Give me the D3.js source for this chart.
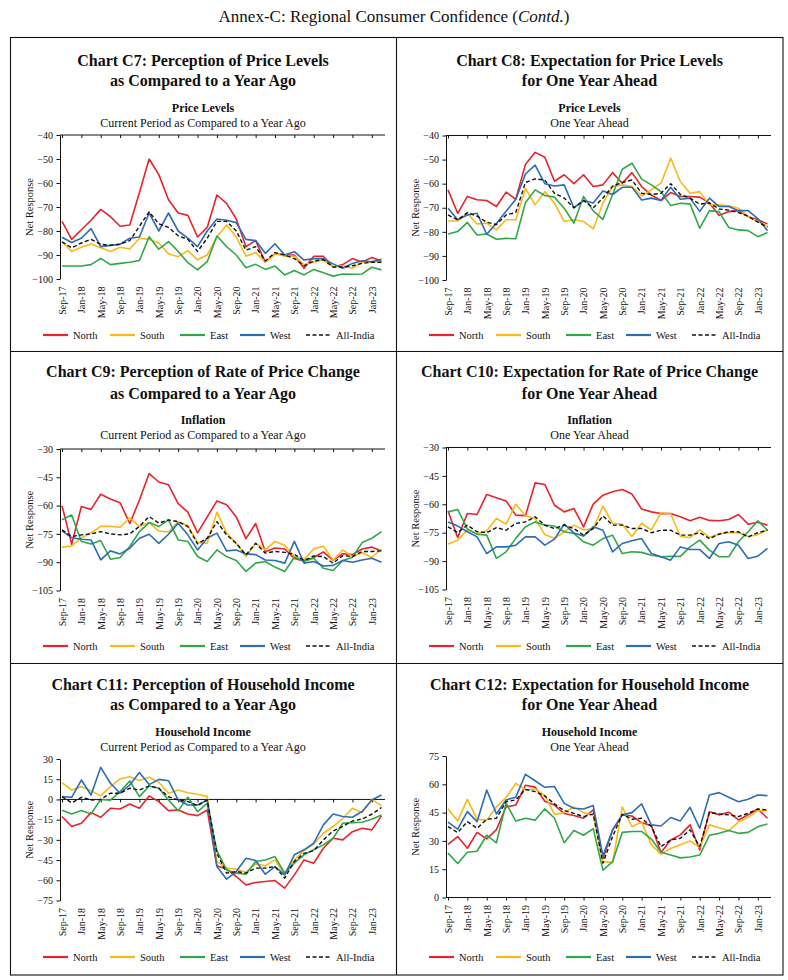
<!DOCTYPE html>
<html><head><meta charset="utf-8">
<script src="https://cdn.jsdelivr.net/npm/d3@7/dist/d3.min.js"></script>
<style>body{margin:0;background:#fff} svg{display:block}</style>
</head><body><svg id="c" width="788" height="980"></svg>
<script>
// ---------- DATA ----------
const months = ["Sep-17","Nov-17","Jan-18","Mar-18","May-18","Jul-18","Sep-18","Nov-18","Jan-19","Mar-19","May-19","Jul-19","Sep-19","Nov-19","Jan-20","Mar-20","May-20","Jul-20","Sep-20","Nov-20","Jan-21","Mar-21","May-21","Jul-21","Sep-21","Nov-21","Jan-22","Mar-22","May-22","Jul-22","Sep-22","Nov-22","Jan-23","Mar-23"];
const tickLabels = ["Sep-17","Jan-18","May-18","Sep-18","Jan-19","May-19","Sep-19","Jan-20","May-20","Sep-20","Jan-21","May-21","Sep-21","Jan-22","May-22","Sep-22","Jan-23"];
const seriesNames = ["North","South","East","West","All-India"];

const yTicksPriceLevel = [-100,-90,-80,-70,-60,-50,-40];
const yTicksInflation = [-105,-90,-75,-60,-45,-30];
const yTicksIncomeNow = [-75,-60,-45,-30,-15,0,15,30];
const yTicksIncomeAhead = [0,15,30,45,60,75];

// Chart C7
const c7North = [-76,-83.5,-79.5,-75.5,-71,-74,-78,-77.5,-64,-50,-56.5,-67,-72.5,-73.5,-82.5,-78.5,-65,-68.5,-75,-86.5,-84,-93,-89.5,-90,-90,-95.5,-90.5,-90.5,-95,-94,-91.5,-93,-91,-92.5];
const c7South = [-84.5,-88.5,-86.8,-85.4,-87,-88.5,-86.8,-87.5,-83,-83.5,-85,-89.5,-90.7,-88.2,-92,-90,-82.4,-77.5,-82.5,-90.5,-89,-93,-89.5,-90.5,-90.5,-94,-93,-92,-95,-94.5,-95.5,-93,-93,-92.5];
const c7East = [-94.6,-94.6,-94.6,-94,-91.4,-94,-93.5,-93,-92.3,-82.4,-87.6,-84.4,-88.5,-93.2,-96.2,-92.8,-82.1,-86.5,-90,-95.3,-93.9,-96,-94.6,-98.3,-96.5,-98.3,-96,-97.4,-98.8,-97.9,-98,-97.9,-95.1,-96.2];
const c7West = [-82.6,-84.8,-83,-79,-86.5,-86,-85.5,-83,-82.5,-72.5,-80,-72.5,-80,-83,-86.5,-80,-75,-75.5,-76.5,-83.5,-84,-89.3,-85.3,-90,-88.6,-92.1,-91.5,-91.5,-93.7,-95.5,-93.5,-92.4,-92.8,-91.8];
const c7AllIndia = [-84.5,-87,-85,-83.5,-85.5,-86,-85.5,-84,-78,-72,-77,-78.5,-82,-83.5,-88.5,-83,-76,-76,-80,-88,-86.5,-92.5,-89,-90,-91.5,-94.5,-92.5,-92,-95,-95,-94.5,-93.5,-93,-93];

// Chart C8
const c8North = [-62.6,-72.3,-65.3,-66.7,-67,-69.5,-63.5,-66.5,-52,-47,-49,-59,-56.3,-60,-56.3,-61.2,-60.5,-55.4,-59.8,-55.4,-61.2,-64.7,-67,-63.7,-65.3,-65.3,-65.6,-68,-73.2,-71.6,-71.2,-73.7,-75,-76.7];
const c8South = [-75.5,-75.5,-72.3,-76.7,-76.4,-79.2,-75,-75,-62,-68.8,-63.3,-68.1,-75.7,-75,-75.7,-78.8,-68.1,-61.2,-60.5,-61.2,-65.1,-62.6,-59.8,-49.4,-59.1,-64,-63.3,-68.8,-68.8,-69.2,-70.2,-73.7,-75.7,-77.5];
const c8East = [-80.9,-79.9,-76.1,-81.3,-80.9,-83.1,-82.7,-82.9,-67.8,-62.6,-64.9,-65.6,-70.2,-76.4,-65.3,-71.3,-74.8,-64.5,-54,-51.5,-58.1,-60.5,-63.3,-69.1,-68.1,-68.4,-78.5,-71.2,-71.6,-78.2,-79.2,-79.5,-82,-80.3];
const c8West = [-70.2,-75,-73,-72.3,-81,-76.5,-71.5,-66.5,-56,-52.3,-60,-61,-60.5,-70,-67,-68,-63,-64.5,-61.5,-61.5,-66.8,-66,-67,-61.5,-66.5,-66,-71.5,-66,-69.5,-69.5,-71.2,-71.2,-74.5,-79.5];
const c8AllIndia = [-73,-75,-72,-73.5,-76,-77,-73,-72,-59.5,-58,-58.5,-64,-66,-70,-67,-70,-66,-61,-59.5,-58.5,-64,-64.5,-64,-60,-64.5,-66,-68.5,-68,-70.5,-71,-72,-73.5,-76,-78];

// Chart C9
const c9North = [-60,-80.5,-60.5,-62,-54,-56.5,-58.5,-69.5,-57,-43,-47.5,-49,-59,-63.5,-74.5,-66,-57.5,-59.5,-66,-77.5,-69.5,-84.5,-82.5,-83,-88,-89.5,-87.5,-84.5,-89,-85.5,-86,-83,-82,-84];
const c9South = [-82,-81.5,-77,-74.5,-71,-71,-71.5,-66.5,-71,-69,-73.5,-74,-68.5,-70.5,-79.5,-80,-63.5,-74.5,-80,-87,-80,-83.5,-79,-81,-87,-88.5,-83,-81.5,-89,-83.5,-87,-85,-87.5,-83];
const c9East = [-67.5,-65,-79,-80.3,-78.5,-88.4,-87.5,-81.7,-73.8,-69,-71.1,-67.6,-78.2,-79,-87,-89.6,-83.5,-87,-89.1,-94.9,-90.5,-89.6,-92.6,-94.9,-87.4,-89.3,-87.9,-93.2,-94.4,-89.1,-87.4,-79.6,-77.3,-73.8];
const c9West = [-73.4,-77,-77.8,-78.2,-88.8,-84,-85.6,-82.6,-77.3,-75.2,-80,-75.2,-69.3,-75.5,-83.5,-77.3,-74.6,-84,-83.5,-85.6,-86,-88.8,-89.1,-90.5,-79,-90.5,-89.6,-92,-91.7,-89.1,-90,-88.8,-87.9,-90];
const c9AllIndia = [-72.9,-76.4,-75.5,-75,-73.8,-75,-75.5,-75,-71,-65.8,-69.3,-67.6,-68.5,-71.1,-80.3,-77.3,-68.5,-75.5,-80,-86.1,-80,-85.2,-84.3,-84.8,-85.8,-89.1,-86.7,-87,-90.5,-86.5,-87,-84.3,-84.3,-84];

// Chart C10
const c10North = [-63.5,-77.5,-64.9,-65.4,-54.8,-56.5,-58.2,-65.7,-66,-48.7,-49.5,-60.5,-64,-62.2,-71.9,-59.9,-55.2,-53.4,-52.2,-54.6,-62.5,-64,-64.9,-64.9,-66.6,-68.7,-66.8,-68.5,-68.7,-68,-65.4,-70.5,-69.5,-71];
const c10South = [-81,-79,-73.5,-75.5,-74,-67.5,-70.5,-60,-66,-67.5,-76,-78,-74.5,-71,-73.5,-73,-61,-70,-70.5,-77,-70,-73.5,-64.5,-65,-77,-77.5,-73.5,-77.5,-75.5,-75,-75,-77,-76,-73.5];
const c10East = [-64,-62.7,-73,-75.8,-76.3,-88.6,-85.1,-78,-71.9,-69.3,-71,-71.5,-74.5,-75.4,-79.8,-81.6,-78.1,-76.3,-86,-85.1,-85.4,-86.9,-87.7,-87.5,-87.5,-82.5,-78.9,-84.2,-87.7,-87.7,-79.8,-74.5,-68.7,-73.7];
const c10West = [-69.3,-71.5,-74.5,-77.2,-86,-82.5,-82.5,-81.6,-77.2,-77.2,-81.6,-78.4,-70.5,-75.1,-76.8,-71.9,-73.7,-85.1,-80.7,-79.3,-78.1,-86,-87.7,-89.5,-82.5,-83.9,-83.9,-88.6,-80.7,-79.8,-81.6,-88.6,-87.4,-83.3];
const c10AllIndia = [-71.9,-74.9,-71,-74.5,-75,-72.3,-73.7,-70.1,-69.3,-66.6,-71,-72.8,-71,-72.8,-76.3,-72.8,-66.1,-71,-71,-72.8,-72.8,-75,-73.7,-73.7,-76.3,-76.3,-75,-78.1,-75.8,-74.5,-74.5,-77.2,-75,-73.7];

// Chart C11
const c11North = [-12.7,-20.1,-17.7,-9.8,-13.2,-6.6,-7.1,-3.4,-6.6,2.6,-1.6,-8.3,-7.8,-10.8,-12,-7.8,-49.3,-51.8,-57.2,-63.4,-61.7,-60.9,-60.2,-65.8,-56,-44.9,-47.3,-36.2,-28.8,-30,-23.9,-21.4,-22.6,-12.2];
const c11South = [12.5,7,9.5,6.5,2.6,9.5,15.2,16.9,14,16.4,12.7,4.6,7,5,3.8,2.1,-46,-51,-51.8,-54,-47.8,-49.3,-44.9,-56,-44.9,-37.9,-33,-25.1,-20.1,-14,-6.6,-9.8,0.1,-4.8];
const c11East = [-8,-10.8,-8.3,-10.8,0,-0.5,5.8,13.7,2.1,10,8.3,-0.4,-8.3,1.6,-9,-2.9,-38,-52.3,-54.7,-55.5,-46.1,-44.9,-42.4,-54.7,-47.3,-41.1,-37.4,-33.7,-28.8,-17.7,-17.2,-16.9,-14.7,-11.5];
const c11West = [2.1,1.6,14.4,3.3,23.8,12,4.6,10.7,19.9,11,14.9,13.9,-0.4,-4.1,-4.1,-0.4,-49.8,-59.2,-53.5,-43.6,-45.3,-55.5,-49.8,-56,-41.1,-37.4,-32.5,-18.9,-10.8,-12.7,-13.2,-9,-0.4,3.3];
const c11AllIndia = [2,-2.5,1.6,-0.4,0,4.6,4.6,8.3,7,10,8.3,2,-0.4,-1.6,-4.6,-0.4,-40,-54.7,-53.5,-54.7,-51,-51,-49.8,-58.4,-46,-40,-38,-30,-23.5,-20,-16,-14.5,-11,-6];

// Chart C12
const c12North = [28.2,32.3,26.1,34.5,31,36,48,49,59.5,58.5,51,49,44.5,43.5,42,46.5,20.5,35.8,43.8,43.2,39.7,38.1,23.8,30.5,33.2,38.5,25.2,45.5,43.8,45.2,41.1,43.8,46.9,42];
const c12South = [47,40.5,52,41.5,41,48,53,60.5,57,57.5,54,44,45,48,45,43.5,19,18.5,48,37.5,40,28,23,26,28,30,26.5,38.5,37,35.5,40,42.5,46,46];
const c12East = [23.5,18,24,24.5,33,29,50,40.5,42,41,47,42,29,35.5,33,36.5,14.5,19,34.5,35,35,31,24,22.5,21,21.5,22.5,33,34,35.5,34,34.5,37.5,39];
const c12West = [39.9,36.2,45.5,40.2,57,44.3,51.7,53.1,65.3,61.9,58.4,58.8,49.9,47.3,46.9,48.7,22.1,35.8,43.8,45,49.6,38.5,37.9,42.4,40.6,47.8,36.7,54.3,55.6,53.1,50.8,52.1,54.3,54];
const c12AllIndia = [37.6,34.4,40.2,36.7,41.5,42,50.8,51.7,57.3,56.1,53.8,49.6,46.1,44.6,42.9,44.3,18.2,32.3,44.1,41.5,42,37.6,27,30.5,31.4,35.8,27,45,44.3,43.8,42.9,44.6,46.9,46.4];

// ---------- STYLE / LAYOUT ----------
const FONT = "'Liberation Serif','Times New Roman',serif";
const colors = {"North":"#e8232b","South":"#fbb81a","East":"#30a84a","West":"#2c6db4","All-India":"#111"};

const panels = [
  {left:10, right:396, top:37, t1:"Chart C7: Perception of Price Levels", t2:"as Compared to a Year Ago",
   s1:"Price Levels", s2:"Current Period as Compared to a Year Ago",
   dom:[-100,-40], ticks:yTicksPriceLevel, axisVal:-40, pt:135, pb:279, ty:[66,86,112,127], ly:335,
   data:[c7North,c7South,c7East,c7West,c7AllIndia]},
  {left:396, right:783, top:37, t1:"Chart C8: Expectation for Price Levels", t2:"for One Year Ahead",
   s1:"Price Levels", s2:"One Year Ahead",
   dom:[-100,-40], ticks:yTicksPriceLevel, axisVal:-40, pt:135.5, pb:280, ty:[66,86,112,127], ly:335,
   data:[c8North,c8South,c8East,c8West,c8AllIndia]},
  {left:10, right:396, top:351, t1:"Chart C9: Perception of Rate of Price Change", t2:"as Compared to a Year Ago",
   s1:"Inflation", s2:"Current Period as Compared to a Year Ago",
   dom:[-105,-30], ticks:yTicksInflation, axisVal:-30, pt:449, pb:590.5, ty:[377,398.5,424,438.5], ly:646,
   data:[c9North,c9South,c9East,c9West,c9AllIndia]},
  {left:396, right:783, top:351, t1:"Chart C10: Expectation for Rate of Price Change", t2:"for One Year Ahead",
   s1:"Inflation", s2:"One Year Ahead",
   dom:[-105,-30], ticks:yTicksInflation, axisVal:-30, pt:447.5, pb:589.5, ty:[377,398.5,424,438.5], ly:646,
   data:[c10North,c10South,c10East,c10West,c10AllIndia]},
  {left:10, right:396, top:663, t1:"Chart C11: Perception of Household Income", t2:"as Compared to a Year Ago",
   s1:"Household Income", s2:"Current Period as Compared to a Year Ago",
   dom:[-75,30], ticks:yTicksIncomeNow, axisVal:0, pt:759, pb:900.5, ty:[689.5,709.5,735.5,750.5], ly:957,
   data:[c11North,c11South,c11East,c11West,c11AllIndia]},
  {left:396, right:783, top:663, t1:"Chart C12: Expectation for Household Income", t2:"for One Year Ahead",
   s1:"Household Income", s2:"One Year Ahead",
   dom:[0,75], ticks:yTicksIncomeAhead, axisVal:0, pt:756, pb:897.5, ty:[689.5,709.5,735.5,750.5], ly:957,
   data:[c12North,c12South,c12East,c12West,c12AllIndia]}
];

const svg = d3.select("#c");
svg.append("rect").attr("width",788).attr("height",980).attr("fill","#fff");

// page title
const pt = svg.append("text").attr("x",394).attr("y",22).attr("text-anchor","middle")
  .style("font-family",FONT).style("font-size","17px").attr("fill","#111");
pt.append("tspan").text("Annex-C: Regional Consumer Confidence (");
pt.append("tspan").style("font-style","italic").text("Contd.");
pt.append("tspan").text(")");

// frame
svg.append("rect").attr("x",10.5).attr("y",37.5).attr("width",772.5).attr("height",937.5)
  .attr("fill","none").attr("stroke","#111").attr("stroke-width",1.1);
svg.append("line").attr("x1",396.5).attr("x2",396.5).attr("y1",37.5).attr("y2",975).attr("stroke","#111").attr("stroke-width",1.1);
svg.append("line").attr("x1",10.5).attr("x2",783).attr("y1",351.5).attr("y2",351.5).attr("stroke","#111").attr("stroke-width",1.1);
svg.append("line").attr("x1",10.5).attr("x2",783).attr("y1",663.5).attr("y2",663.5).attr("stroke","#111").attr("stroke-width",1.1);

panels.forEach(p => {
  const g = svg.append("g");
  const cx = (p.left + p.right)/2;
  const ax = p.left + 50;           // y-axis position
  const rx = ax + 325;              // right end of plot
  // titles
  [[p.t1,p.ty[0],16,"bold"],[p.t2,p.ty[1],16,"bold"],[p.s1,p.ty[2],12,"bold"],[p.s2,p.ty[3],12,"normal"]]
    .forEach(([t,y,fs,fw]) => g.append("text").attr("x",cx).attr("y",y).attr("text-anchor","middle")
      .style("font-family",FONT).style("font-size",fs+"px").style("font-weight",fw).attr("fill","#111").text(t));

  const x = d3.scalePoint().domain(months).range([ax+2, ax+321.5]);
  const y = d3.scaleLinear().domain(p.dom).range([p.pb, p.pt]);

  // y axis
  const ya = g.append("g").attr("transform",`translate(${ax},0)`)
    .call(d3.axisLeft(y).tickValues(p.ticks).tickSize(3.5).tickSizeOuter(0).tickPadding(3.5));
  ya.select(".domain").attr("stroke","#111");
  ya.selectAll(".tick line").attr("stroke","#111");
  ya.selectAll("text").style("font-family",FONT).style("font-size","10px").attr("fill","#111");

  // x axis line with ticks
  const yAx = y(p.axisVal);
  g.append("line").attr("x1",ax).attr("x2",rx).attr("y1",yAx).attr("y2",yAx).attr("stroke","#111").attr("stroke-width",1);
  const xt = g.append("g").attr("transform",`translate(0,${yAx})`)
    .call(d3.axisBottom(x).tickValues(tickLabels).tickSize(3).tickFormat(""));
  xt.select(".domain").remove();
  xt.selectAll(".tick line").attr("stroke","#111");

  // x labels at bottom
  const xl = g.append("g").attr("transform",`translate(0,${p.pb})`)
    .call(d3.axisBottom(x).tickValues(tickLabels).tickSize(0));
  xl.select(".domain").remove();
  xl.selectAll("text").attr("transform","rotate(-90)").attr("x",-7.5).attr("y",0).attr("dy","0.33em")
    .style("text-anchor","end").style("font-family",FONT).style("font-size","10px").attr("fill","#111");

  // y title
  g.append("text").attr("transform",`translate(${ax-31},${(p.pt+p.pb)/2}) rotate(-90)`)
    .attr("text-anchor","middle").attr("dy","0.35em").style("font-family",FONT).style("font-size","10.5px")
    .attr("fill","#111").text("Net Response");

  // lines
  const line = d3.line().x((d,i)=>x(months[i])).y(d=>y(d));
  seriesNames.forEach((s,k) => {
    g.append("path").datum(p.data[k]).attr("d",line).attr("fill","none")
      .attr("stroke",colors[s]).attr("stroke-width", s==="All-India"?1.4:1.6)
      .attr("stroke-dasharray", s==="All-India"?"4,2.5":null).attr("stroke-linejoin","round");
  });

  // legend
  const lx = [ax-17, ax+50, ax+120, ax+180, ax+246];
  seriesNames.forEach((s,k) => {
    g.append("line").attr("x1",lx[k]).attr("x2",lx[k]+25).attr("y1",p.ly).attr("y2",p.ly)
      .attr("stroke",colors[s]).attr("stroke-width", s==="All-India"?1.6:2.2)
      .attr("stroke-dasharray", s==="All-India"?"4,2.5":null);
    g.append("text").attr("x",lx[k]+30).attr("y",p.ly+3.5).style("font-family",FONT).style("font-size","10.5px")
      .attr("fill","#111").text(s);
  });
});
</script></body></html>
